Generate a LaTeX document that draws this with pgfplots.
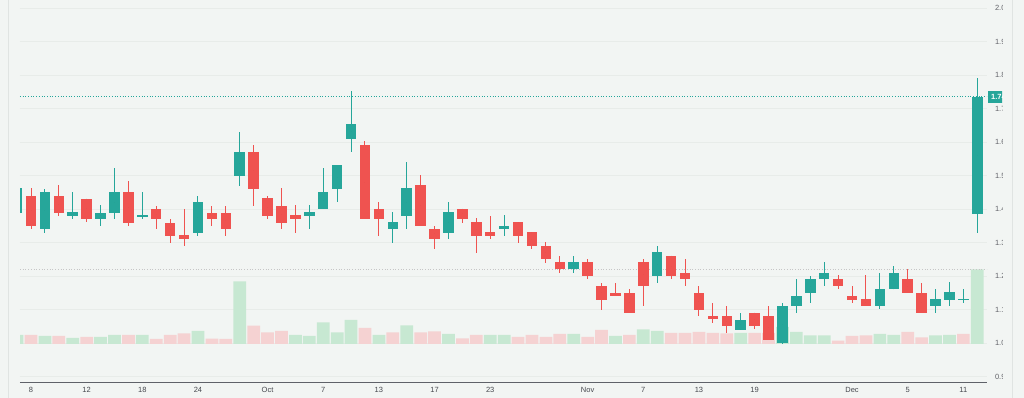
\documentclass[border=0pt]{standalone}
\usepackage{fontspec}
\setmainfont{Liberation Sans}
\usepackage{pgfplots}
\usepackage{pgfplotstable}
\pgfplotsset{compat=1.18}
\definecolor{tvteal}{RGB}{38,166,154}
\definecolor{tvred}{RGB}{239,83,80}
\definecolor{volgreen}{RGB}{199,232,210}
\definecolor{volred}{RGB}{245,210,210}
\definecolor{bg}{RGB}{242,245,243}
\definecolor{gridc}{RGB}{232,236,233}
\definecolor{axc}{RGB}{95,98,105}
\definecolor{labc}{RGB}{70,72,78}
\definecolor{sidec}{RGB}{224,228,226}

\pgfplotstableread{
n o h l c
1 1.3890 1.4657 1.3851 1.4618
3 1.3403 1.4597 1.3293 1.4507
5 1.3791 1.4507 1.3701 1.3901
7 1.3701 1.4110 1.3493 1.3890
8 1.3890 1.5215 1.3701 1.4507
10 1.3770 1.4507 1.3701 1.3812
14 1.3275 1.4397 1.3194 1.4218
17 1.4994 1.6307 1.4687 1.5710
22 1.3791 1.4110 1.3394 1.3901
23 1.4000 1.5215 1.4000 1.4507
24 1.4606 1.5304 1.4209 1.5304
25 1.6090 1.7513 1.5701 1.6528
28 1.3394 1.3901 1.2985 1.3603
29 1.3791 1.5412 1.3394 1.4618
32 1.3284 1.4209 1.3104 1.3901
36 1.3403 1.3821 1.3203 1.3501
41 1.2209 1.2597 1.2081 1.2409
47 1.1991 1.2904 1.1800 1.2707
53 1.0397 1.0904 1.0397 1.0696
56 0.9991 1.1185 0.9970 1.1104
57 1.1096 1.1910 1.0896 1.1412
58 1.1484 1.2000 1.1194 1.1910
59 1.1901 1.2418 1.1701 1.2099
63 1.1096 1.2099 1.1006 1.1621
64 1.1603 1.2307 1.1603 1.2099
67 1.1096 1.1603 1.0904 1.1304
68 1.1293 1.1812 1.1096 1.1513
69 1.1302 1.1603 1.1203 1.1306
70 1.3851 1.7910 1.3284 1.7352
}\upcandles

\pgfplotstableread{
n o h l c
2 1.4397 1.4618 1.3394 1.3493
4 1.4397 1.4716 1.3791 1.3890
6 1.4307 1.4307 1.3603 1.3701
9 1.4507 1.4827 1.3493 1.3591
11 1.4000 1.4099 1.3394 1.3701
12 1.3591 1.3701 1.2985 1.3194
13 1.3215 1.4000 1.2887 1.3104
15 1.3890 1.4099 1.3493 1.3701
16 1.3890 1.4099 1.3194 1.3394
18 1.5710 1.5910 1.4090 1.4606
19 1.4319 1.4397 1.3710 1.3791
20 1.4099 1.4618 1.3394 1.3591
21 1.3812 1.4110 1.3284 1.3710
26 1.5901 1.6021 1.3701 1.3701
27 1.4009 1.4209 1.3203 1.3701
30 1.4707 1.5006 1.3493 1.3493
31 1.3412 1.3501 1.2797 1.3104
33 1.4000 1.4000 1.3591 1.3710
34 1.3603 1.3722 1.2696 1.3203
35 1.3304 1.3800 1.3096 1.3203
37 1.3603 1.3603 1.2994 1.3203
38 1.3304 1.3304 1.2806 1.2896
39 1.2904 1.3006 1.2379 1.2499
40 1.2409 1.2597 1.2081 1.2209
42 1.2409 1.2507 1.1901 1.1991
43 1.1701 1.1800 1.0985 1.1293
44 1.1501 1.1800 1.1403 1.1403
45 1.1501 1.1612 1.0896 1.0896
46 1.2409 1.2507 1.1104 1.1701
48 1.2597 1.2597 1.1901 1.1991
49 1.2099 1.2507 1.1701 1.1901
50 1.1501 1.1701 1.0806 1.0994
51 1.0806 1.1194 1.0588 1.0707
52 1.0806 1.1104 1.0290 1.0507
54 1.0904 1.0904 1.0409 1.0499
55 1.0806 1.1104 1.0090 1.0090
60 1.1919 1.2021 1.1603 1.1701
61 1.1412 1.1701 1.1194 1.1293
62 1.1304 1.2021 1.1096 1.1096
65 1.1919 1.2209 1.1484 1.1484
66 1.1501 1.1800 1.0896 1.0896
}\downcandles

\pgfplotstableread{
n v
1 9
3 8
5 6
7 7
8 9
10 9
14 13
17 62.7
21 9
22 8
23 21.5
24 11.5
25 24
27 9
29 18.5
32 10
35 9
36 9
41 10
44 8
46 14.5
47 13
53 11
56 17
57 12
58 8.7
59 8.7
63 10
64 9
67 8.7
68 9
70 74.7
}\volup

\pgfplotstableread{
n v
2 9
4 8
6 7
9 9
11 5
12 9
13 10.7
15 5.3
16 5
18 18.3
19 11.5
20 13
26 16
28 11.5
30 11.5
31 12.5
33 5.5
34 9
37 7
38 9
39 7
40 10
42 7
43 14
45 9
48 11
49 11
50 12
51 11
52 10.5
54 11
55 11
60 3.3
61 8
62 8.7
65 12
66 6.7
69 10
}\voldown

\pgfplotsset{
  basegeom/.style={
    at={(20pt,15pt)}, anchor=south west, scale only axis,
    width=967pt, height=383pt,
    xmin=1.2096, xmax=70.698,
  },
  priceaxis/.style={basegeom, ymin=0.8806, ymax=2.0239},
  candle/.style={only marks, mark=*, mark size=0pt, mark options={draw=none, fill=none},
    error bars/.cd, y dir=both, y explicit, error mark=none,
    error bar style={draw=#1}},
}

\begin{document}
\begin{tikzpicture}
\path[use as bounding box] (0,0) rectangle (1024pt,398pt);
\fill[bg] (0,0) rectangle (1024pt,398pt);
\draw[sidec, line width=1pt] (8pt,0) -- (8pt,398pt);
\draw[sidec, line width=1pt] (1012pt,0) -- (1012pt,398pt);

\begin{scope}
\clip (0,0) rectangle (1002pt,398pt);

% price axis: grid, ticks, labels
\begin{axis}[priceaxis,
  axis line style={-},
  axis x line*=bottom, axis y line*=right,
  x axis line style={draw=axc, line width=1pt},
  y axis line style={draw=none},
  major tick length=0pt,
  tick style={draw=none},
  ymajorgrids, grid style={gridc, line width=0.7pt},
  xtick={2,6,10,14,19,23,27,31,35,42,46,50,54,61,65,69},
  xticklabels={8,12,18,24,Oct,7,13,17,23,Nov,7,13,19,Dec,5,11},
  ytick={0.9,1.0,1.1,1.2,1.3,1.4,1.5,1.6,1.7,1.8,1.9,2.0},
  yticklabels={0.9,1.0,1.1,1.2,1.3,1.4,1.5,1.6,1.7,1.8,1.9,2.0},
  yticklabel pos=right,
  xticklabel style={font=\fontsize{7.5}{8}\selectfont, text=labc, yshift=-1pt},
  yticklabel style={font=\fontsize{7.5}{8}\selectfont, text=labc!85, anchor=west, xshift=4.5pt},
]
\addplot[tvteal, dotted, line width=0.7pt] coordinates {(1.2096,1.7352) (70.698,1.7352)};
\coordinate (lastp) at (axis cs:70.698,1.7352);
\end{axis}

% volume axis
\begin{axis}[basegeom, ymin=-39, ymax=344, hide axis]
\addplot[ybar, bar width=12.7pt, bar shift=0pt, fill=volgreen, draw=none] table[x=n, y=v] {\volup};
\addplot[ybar, bar width=12.7pt, bar shift=0pt, fill=volred, draw=none] table[x=n, y=v] {\voldown};
\addplot[color=gray!45, dotted, line width=0.7pt] coordinates {(1.2096,74.7) (70.698,74.7)};
\end{axis}

% candles
\begin{axis}[priceaxis, hide axis]
\addplot[candle=tvteal, error bar style={line width=1pt}]
  table[x=n, y=o, y error plus expr=\thisrow{h}-\thisrow{o}, y error minus expr=\thisrow{o}-\thisrow{l}] {\upcandles};
\addplot[candle=tvred, error bar style={line width=1pt}]
  table[x=n, y=o, y error plus expr=\thisrow{h}-\thisrow{o}, y error minus expr=\thisrow{o}-\thisrow{l}] {\downcandles};
\addplot[candle=tvteal, error bar style={line width=10.5pt}]
  table[x=n, y expr={(\thisrow{o}+\thisrow{c})/2}, y error expr={max(abs(\thisrow{c}-\thisrow{o})/2,0.0015)}] {\upcandles};
\addplot[candle=tvred, error bar style={line width=10.5pt}]
  table[x=n, y expr={(\thisrow{o}+\thisrow{c})/2}, y error expr={max(abs(\thisrow{c}-\thisrow{o})/2,0.0015)}] {\downcandles};
\end{axis}

\node[fill=tvteal, text=white, anchor=west, minimum height=12pt, inner xsep=3pt, inner ysep=0pt,
  font=\fontsize{7.5}{8}\selectfont\bfseries] at ([xshift=1pt]lastp) {1.74};
\end{scope}
\end{tikzpicture}
\end{document}
